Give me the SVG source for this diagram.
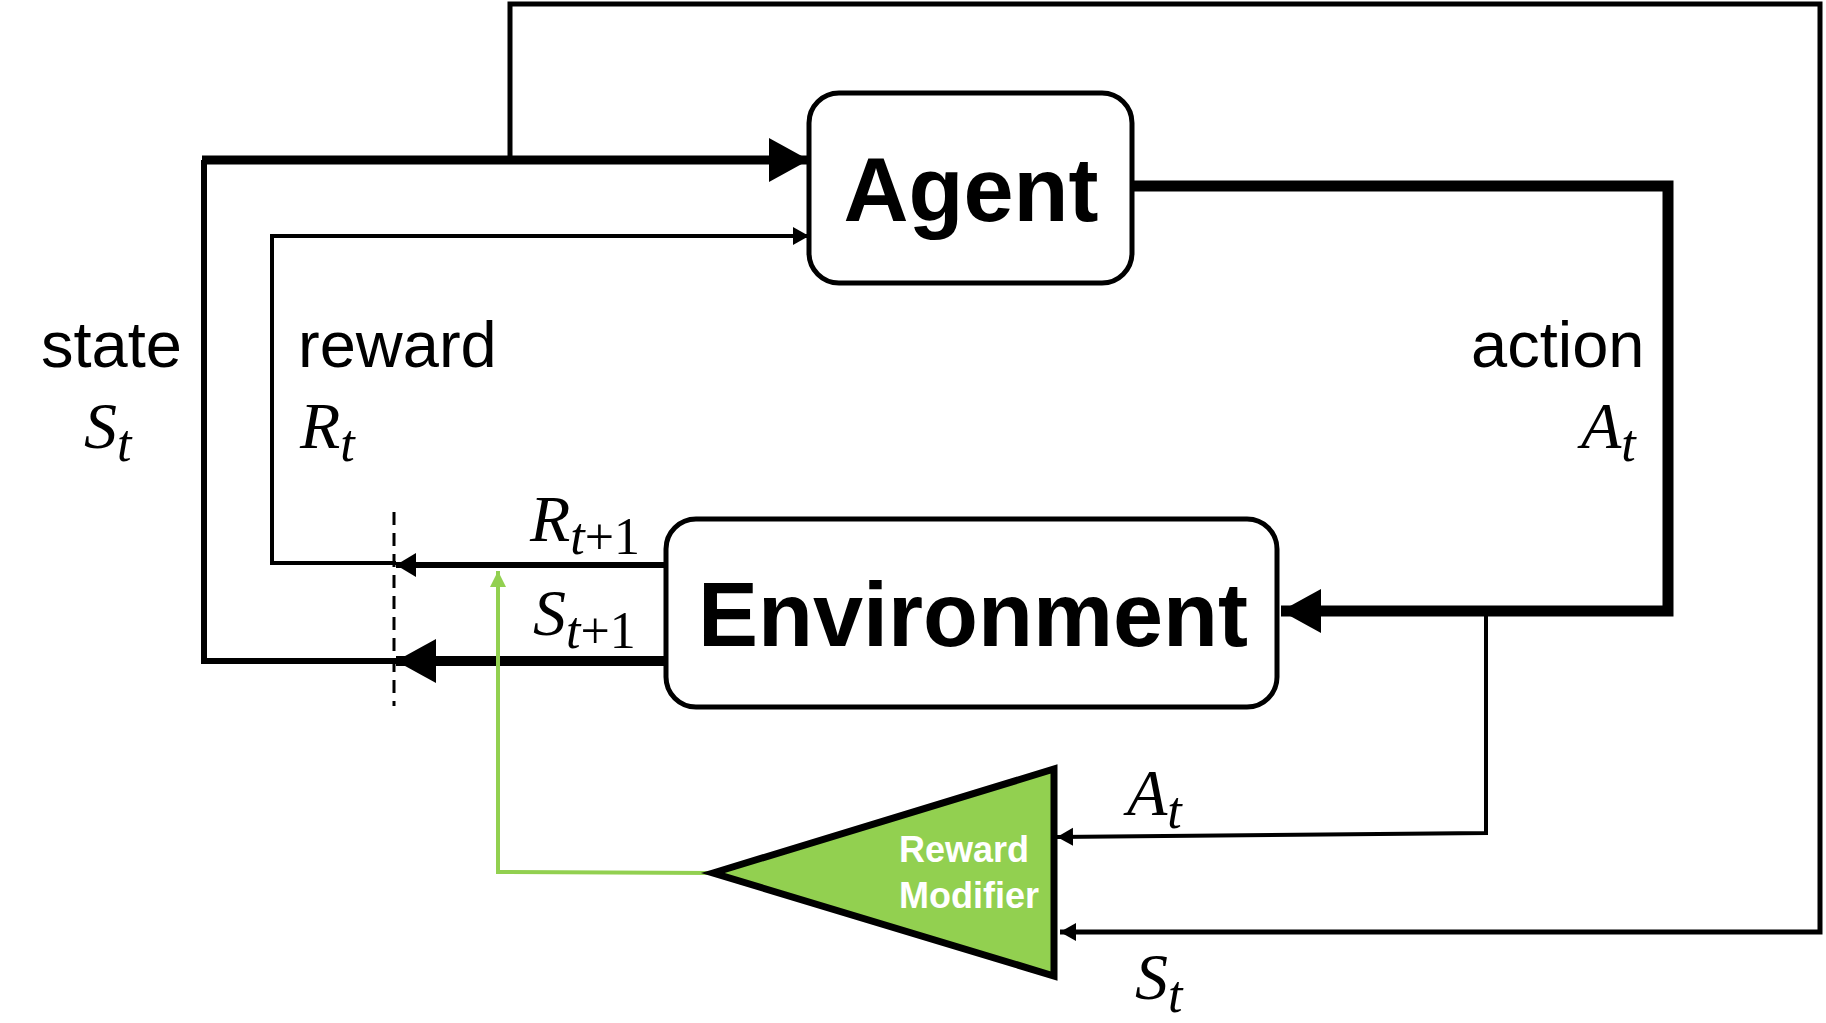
<svg xmlns="http://www.w3.org/2000/svg" width="1826" height="1023" viewBox="0 0 1826 1023">
<style>
.box{fill:#fff;stroke:#000;stroke-width:5}
.big{font-family:"Liberation Sans",Arial,sans-serif;font-weight:bold;font-size:90px;fill:#000;text-anchor:middle}
.lbl{font-family:"Liberation Sans",Arial,sans-serif;font-size:65px;fill:#000}
.math{font-family:"Liberation Serif","Times New Roman",serif;font-style:italic;font-size:66px;fill:#000}
.sub{font-size:52px}
.up{font-style:normal}
.ln{fill:none;stroke:#000;stroke-linejoin:miter}
.green{fill:none;stroke:#92d050;stroke-width:4}
.rm{font-family:"Liberation Sans",Arial,sans-serif;font-weight:bold;font-size:36px;fill:#fff}
</style>
<defs>
<marker id="ah-big" markerUnits="userSpaceOnUse" markerWidth="44" markerHeight="48" refX="40" refY="22" orient="auto">
<path d="M0,0 L40,22 L0,44 Z" fill="#000"/>
</marker>
<marker id="ah-small" markerUnits="userSpaceOnUse" markerWidth="24" markerHeight="28" refX="20" refY="12" orient="auto">
<path d="M0,0 L20,12 L0,24 Z" fill="#000"/>
</marker>
<marker id="ah-tiny" markerUnits="userSpaceOnUse" markerWidth="18" markerHeight="20" refX="16" refY="9" orient="auto">
<path d="M0,0 L16,9 L0,18 Z" fill="#000"/>
</marker>
<marker id="ah-green" markerUnits="userSpaceOnUse" markerWidth="18" markerHeight="20" refX="16" refY="8" orient="auto">
<path d="M0,0 L16,8 L0,16 Z" fill="#92d050"/>
</marker>
</defs>
<g id="connectors">
<path class="ln" stroke-width="5" d="M510 158 V4 H1820 V932 H1060" marker-end="url(#ah-tiny)"/>
<path class="ln" stroke-width="6" d="M396 661 H204 V160"/>
<path class="ln" stroke-width="9" d="M202 160 H809" marker-end="url(#ah-big)"/>
<path class="ln" stroke-width="10" d="M665 661 H396" marker-end="url(#ah-big)"/>
<path class="ln" stroke-width="4" d="M396 563 H272 V236 H809" marker-end="url(#ah-tiny)"/>
<path class="ln" stroke-width="6" d="M665 565 H396" marker-end="url(#ah-small)"/>
<path class="ln" stroke-width="11" d="M1132 186 H1668 V611 H1281" marker-end="url(#ah-big)"/>
<path class="ln" stroke-width="4" d="M1486 611 V833 L1057 837" marker-end="url(#ah-tiny)"/>
<path class="green" d="M713 873 L498 872 V571" marker-end="url(#ah-green)"/>
<line x1="394" y1="512" x2="394" y2="706" stroke="#000" stroke-width="3" stroke-dasharray="13 8"/>
</g>
<g id="agent">
<rect class="box" x="809" y="93" width="323" height="190" rx="30"/>
<text class="big" x="971" y="221">Agent</text>
</g>
<g id="environment">
<rect class="box" x="666" y="519" width="611" height="188" rx="30"/>
<text class="big" x="973" y="646">Environment</text>
</g>
<g id="reward-modifier">
<polygon points="713,873 1054,769 1054,976" fill="#92d050" stroke="#000" stroke-width="7" stroke-linejoin="miter"/>
<text class="rm" x="899" y="862">Reward</text>
<text class="rm" x="899" y="908">Modifier</text>
</g>
<g id="labels">
<text class="lbl" x="41" y="367">state</text>
<text class="lbl" x="298" y="367">reward</text>
<text class="lbl" x="1471" y="367">action</text>
<text class="math" x="84" y="448">S<tspan class="sub" dy="13">t</tspan></text>
<text class="math" x="300" y="448">R<tspan class="sub" dy="13">t</tspan></text>
<text class="math" x="1581" y="448">A<tspan class="sub" dy="13">t</tspan></text>
<text class="math" x="530" y="541">R<tspan class="sub" dy="13">t</tspan><tspan class="sub up">+1</tspan></text>
<text class="math" x="533" y="635">S<tspan class="sub" dy="13">t</tspan><tspan class="sub up">+1</tspan></text>
<text class="math" x="1127" y="815">A<tspan class="sub" dy="13">t</tspan></text>
<text class="math" x="1135" y="999">S<tspan class="sub" dy="13">t</tspan></text>
</g>
</svg>
